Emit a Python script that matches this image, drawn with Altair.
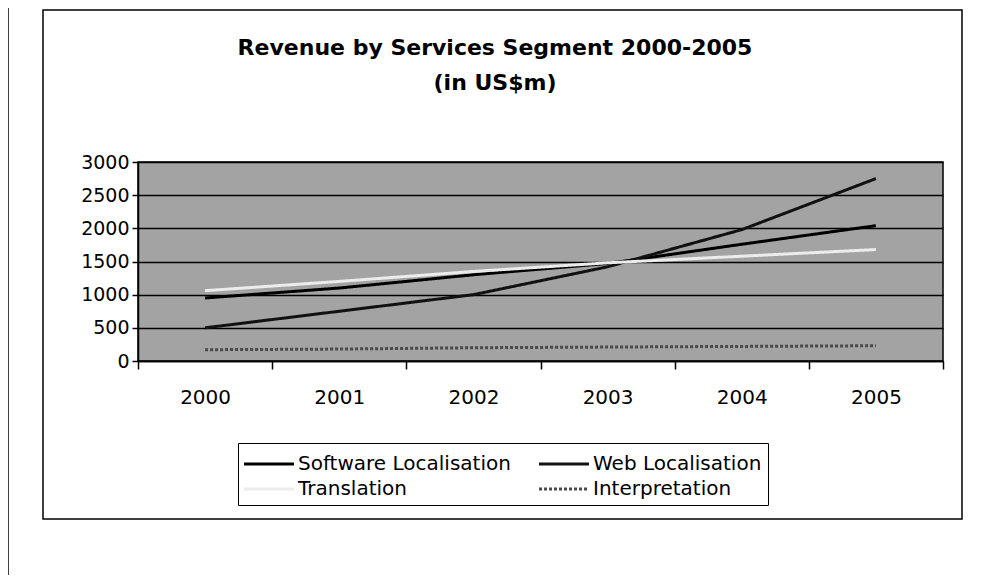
import altair as alt
import pandas as pd

years = ["2000", "2001", "2002", "2003", "2004", "2005"]
software = [950, 1100, 1300, 1470, 1760, 2040]
web = [500, 750, 1000, 1420, 1980, 2750]
translation = [1060, 1200, 1350, 1480, 1580, 1680]
interpretation = [170, 180, 200, 210, 220, 230]

series_names = ["Software Localisation", "Web Localisation", "Translation", "Interpretation"]
series_values = [software, web, translation, interpretation]
series_colors = ["#000000", "#111111", "#ececec", "#4a4a4a"]
series_dash = [[1, 0], [1, 0], [1, 0], [3, 2]]

title_lines = ["Revenue by Services Segment 2000-2005", "(in US$m)"]

rows = []
for name, vals in zip(series_names, series_values):
    for y, v in zip(years, vals):
        rows.append({"Year": y, "Series": name, "Value": v})
df = pd.DataFrame(rows)

FONT = "DejaVu Sans"

legend_opts = dict(title=None, orient="none", legendX=100, legendY=281, direction="horizontal",
                   columns=2, symbolType="M-1.85,0L1.85,0", symbolSize=729, symbolStrokeWidth=3,
                   symbolOffset=10, labelLimit=400,
                   labelFontSize=20, labelFont=FONT, labelColor="black", strokeColor="black",
                   fillColor="white", padding=6, columnPadding=22, rowPadding=0, labelOffset=14)

lines = alt.Chart(df).mark_line(strokeWidth=3).encode(
    x=alt.X("Year:O", bandPosition=0.5,
            scale=alt.Scale(type="band", paddingInner=0, paddingOuter=0),
            axis=alt.Axis(title=None, labelAngle=0, tickBand="extent", tickSize=8,
                          tickColor="black", tickWidth=1.5, domainColor="black",
                          domainWidth=1.5, labelPadding=18, labelFontSize=20,
                          labelFont=FONT, labelColor="black", grid=False)),
    y=alt.Y("Value:Q", scale=alt.Scale(domain=[0, 3000], nice=False),
            axis=alt.Axis(title=None, values=[0, 500, 1000, 1500, 2000, 2500, 3000],
                          format="d", grid=True, gridColor="black", gridWidth=1.5,
                          gridOpacity=1, tickSize=6, tickColor="black", tickWidth=1.5,
                          domainColor="black", domainWidth=1.5,
                          labelFontSize=19, labelFont=FONT, labelColor="black",
                          labelPadding=3)),
    color=alt.Color("Series:N", scale=alt.Scale(domain=series_names, range=series_colors),
                    legend=alt.Legend(**legend_opts)),
    strokeDash=alt.StrokeDash("Series:N", scale=alt.Scale(domain=series_names, range=series_dash),
                              legend=alt.Legend(**legend_opts)),
)

frame_df = pd.DataFrame({"k": [0]})
outer = alt.Chart(frame_df).mark_rect(fill="transparent", stroke="black", strokeWidth=1.5).encode(
    x=alt.value(-95), x2=alt.value(824), y=alt.value(-152), y2=alt.value(357)
)
edge = alt.Chart(frame_df).mark_rule(color="black", strokeWidth=1.5).encode(
    x=alt.value(-130), y=alt.value(-154), y2=alt.value(413)
)
title1 = alt.Chart(frame_df).mark_text(font=FONT, fontSize=22, fontWeight="bold",
                                        color="black", align="center", baseline="middle").encode(
    text=alt.value(title_lines[0]), x=alt.value(357), y=alt.value(-114)
)
title2 = alt.Chart(frame_df).mark_text(font=FONT, fontSize=22, fontWeight="bold",
                                        color="black", align="center", baseline="middle").encode(
    text=alt.value(title_lines[1]), x=alt.value(357), y=alt.value(-79)
)

chart = alt.layer(outer, edge, title1, title2, lines).properties(
    width=805, height=199,
    autosize=alt.AutoSizeParams(type="none"),
    padding={"left": 130, "top": 154, "right": 37, "bottom": 214},
    background="white",
).configure_view(fill="#a3a3a3", stroke="black", strokeWidth=1.5)

chart.save("out.html", embed_options={"renderer": "svg", "actions": False})
